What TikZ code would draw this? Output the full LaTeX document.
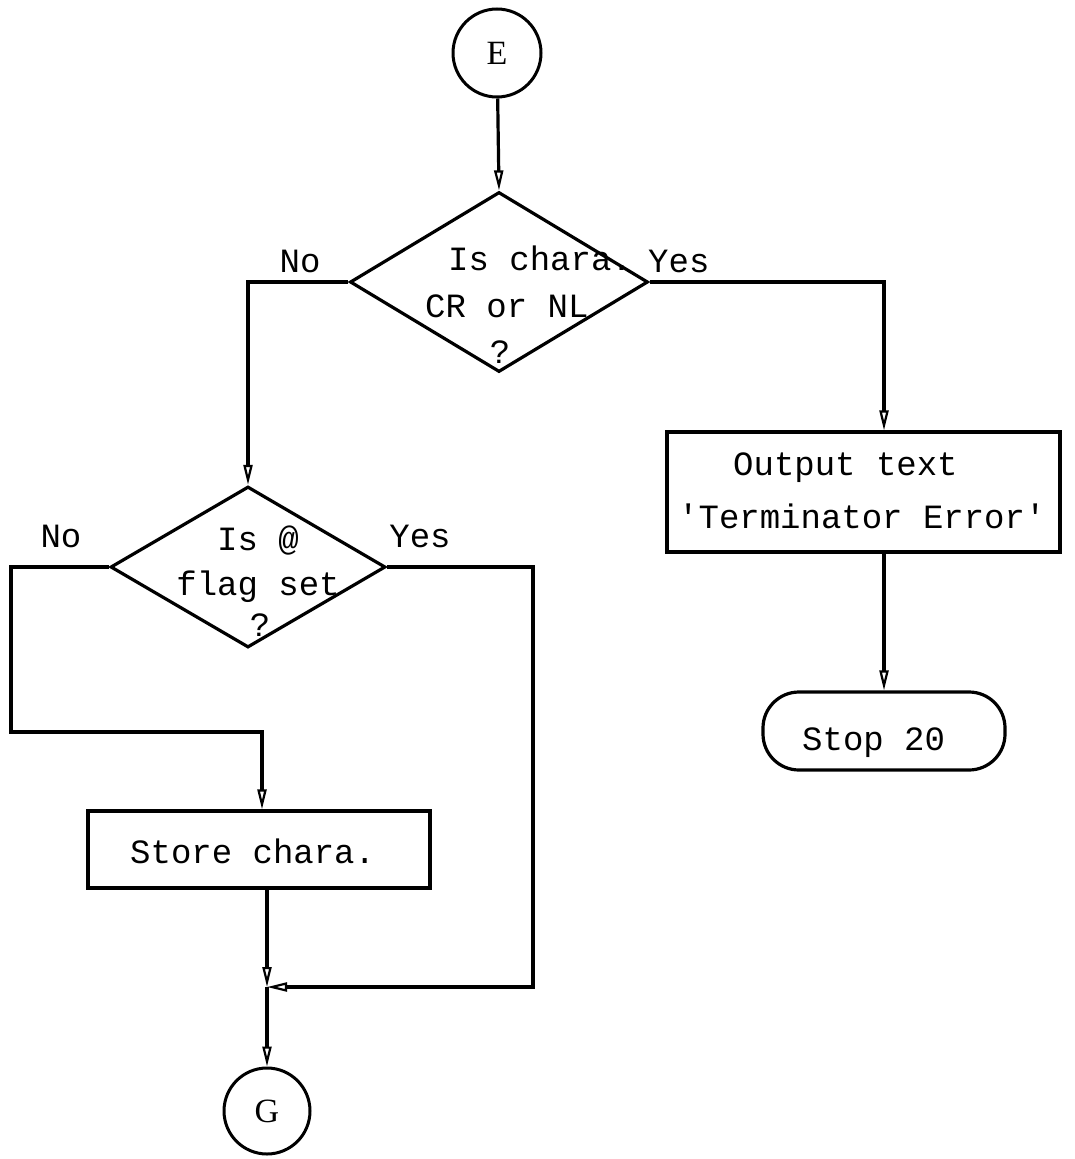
\documentclass[tikz,border=0pt]{standalone}
\usepackage{fontspec}
\setmainfont{Liberation Mono}
\newfontfamily\letterfont{Liberation Serif}
\usetikzlibrary{shapes.geometric,arrows.meta}

\begin{document}
\begin{tikzpicture}[x=1pt,y=-1pt,
  font=\fontsize{34}{47}\selectfont,
  connector/.style={draw, line width=3.2pt, line join=miter},
  flow/.style={connector, -{Triangle[open,length=20pt,width=9pt,line width=2.2pt]}},
  decision/.style={draw, line width=3.2pt, diamond, inner sep=0pt},
  process/.style={draw, line width=3.2pt, rectangle, inner sep=0pt},
  terminal/.style={draw, line width=3.2pt, rectangle, rounded corners=36pt, inner sep=0pt,
                   minimum width=242pt, minimum height=78pt},
  connectorcircle/.style={draw, line width=3pt, circle, inner sep=0pt, font=\fontsize{34}{40}\selectfont\letterfont},
  txt/.style={anchor=base west, inner sep=0pt},
  ctxt/.style={anchor=base, inner sep=0pt}]

\useasboundingbox (0,0) rectangle (1074,1159);

% off-page connectors
\node[connectorcircle, minimum size=88pt] (E) at (497,53) {E};
\node[connectorcircle, minimum size=86pt] (G) at (267,1111) {G};

% first decision: terminator check
\node[decision, minimum width=298pt, minimum height=180pt] (d1) at (499,282) {};
\node[txt] (d1a) at (448,270) {Is chara.};
\node[txt] (d1b) at (425,317) {CR or NL};
\node[ctxt] (d1c) at (500,363) {?};
\node[ctxt] (d1no) at (300,272) {No};
\node[txt] (d1yes) at (648,272) {Yes};

% error output and stop
\node[process, minimum width=393pt, minimum height=120pt] (b1) at (863.5,492) {};
\node[txt] (b1a) at (733,475) {Output text};
\node[txt] (b1b) at (678,528) {\textquotesingle Terminator Error\textquotesingle};
\node[terminal] (stop) at (884,731) {};
\node[txt] (stopt) at (802,750) {Stop 20};

% second decision: @ flag
\node[decision, minimum width=275pt, minimum height=161pt] (d2) at (248,567) {};
\node[ctxt] (d2a) at (258,550) {Is @};
\node[ctxt] (d2b) at (258,595) {flag set};
\node[ctxt] (d2c) at (260,636) {?};
\node[ctxt] (d2no) at (61,547) {No};
\node[ctxt] (d2yes) at (420,547) {Yes};

% store character
\node[process, minimum width=342pt, minimum height=77pt] (b2) at (259,849.5) {};
\node[txt] (b2t) at (130,863) {Store chara.};

% routing points
\coordinate (r1) at (884,282);
\coordinate (l1) at (248,282);
\coordinate (l2a) at (11,567);
\coordinate (l2b) at (11,732);
\coordinate (l2c) at (262,732);
\coordinate (y2a) at (533,567);
\coordinate (y2b) at (533,987);
\coordinate (j) at (267,987);

% connectors
\draw[flow] (E) -- (d1.north);
\draw[flow] (d1.west) -- (l1) -- (d2.north);
\draw[flow] (d1.east) -- (r1) -- (r1 |- b1.north);
\draw[flow] (r1 |- b1.south) -- (stop.north);
\draw[flow] (d2.west) -- (l2a) -- (l2b) -- (l2c) -- (l2c |- b2.north);
\draw[flow] (d2.east) -- (y2a) -- (y2b) -- (j);
\draw[flow] (j |- b2.south) -- (j);
\draw[flow] (j) -- (G.north);
\end{tikzpicture}
\end{document}
